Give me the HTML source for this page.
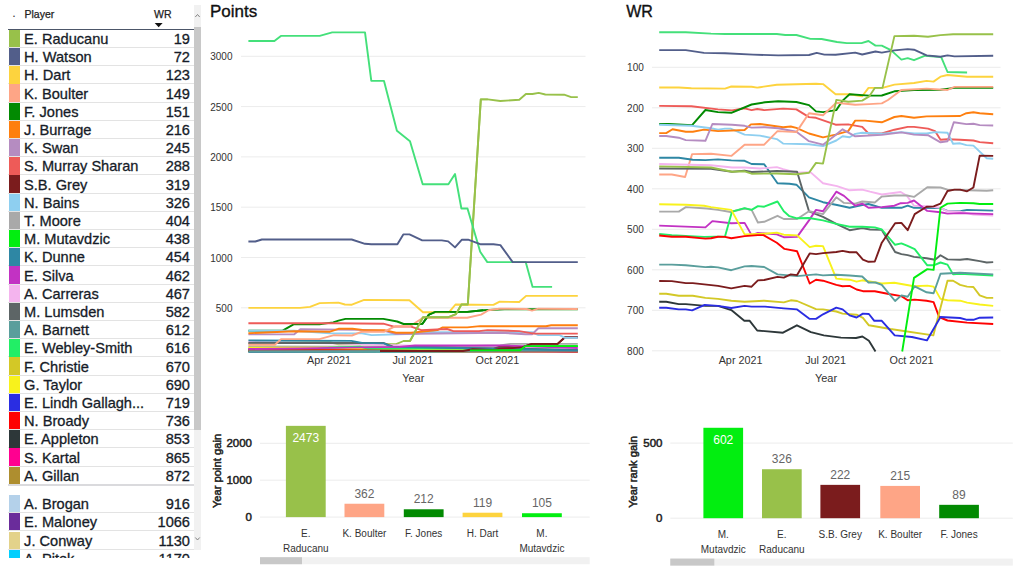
<!DOCTYPE html><html><head><meta charset="utf-8"><style>
*{margin:0;padding:0;box-sizing:border-box}
html,body{width:1024px;height:572px;overflow:hidden;background:#fff;font-family:"Liberation Sans",sans-serif;position:relative}
.a{position:absolute;white-space:nowrap}
.tb{position:absolute;left:0;top:0;width:202px;height:557.6px;overflow:hidden}
.row{position:absolute;left:8.4px;width:185.6px;height:18.2px;border-bottom:1px solid #e3e3e3}
.sw{position:absolute;left:0.6px;top:0;width:11.4px;height:17.3px}
.nm{position:absolute;left:15.7px;top:1.2px;font-size:14.6px;color:#161c28;line-height:16px;-webkit-text-stroke:0.3px #161c28}
.vl{position:absolute;right:4px;top:1.2px;font-size:14.6px;color:#161c28;line-height:16px;text-align:right;-webkit-text-stroke:0.3px #161c28}
svg{position:absolute;left:0;top:0}
svg text{font-family:"Liberation Sans",sans-serif}
</style></head><body>

<div class="tb">
<div class="a" style="left:12.2px;top:5.6px;font-size:12.5px;color:#333">.</div>
<div class="a" style="left:24.5px;top:7.7px;font-size:10.5px;color:#222;-webkit-text-stroke:0.25px #222">Player</div>
<div class="a" style="left:154px;top:7.7px;font-size:10.5px;color:#222;-webkit-text-stroke:0.25px #222">WR</div>
<svg width="200" height="40" style="left:0;top:0"><path d="M154.7 23 L162.6 23 L158.65 27.2 Z" fill="#111"/></svg>
<div class="row" style="top:29.85px"><div class="sw" style="background:#98c14a"></div><div class="nm">E. Raducanu</div><div class="vl">19</div></div>
<div class="row" style="top:48.05px"><div class="sw" style="background:#525e8a"></div><div class="nm">H. Watson</div><div class="vl">72</div></div>
<div class="row" style="top:66.25px"><div class="sw" style="background:#fdd33e"></div><div class="nm">H. Dart</div><div class="vl">123</div></div>
<div class="row" style="top:84.45px"><div class="sw" style="background:#fea586"></div><div class="nm">K. Boulter</div><div class="vl">149</div></div>
<div class="row" style="top:102.65px"><div class="sw" style="background:#028a02"></div><div class="nm">F. Jones</div><div class="vl">151</div></div>
<div class="row" style="top:120.85px"><div class="sw" style="background:#fe7f0f"></div><div class="nm">J. Burrage</div><div class="vl">216</div></div>
<div class="row" style="top:139.05px"><div class="sw" style="background:#b58cc1"></div><div class="nm">K. Swan</div><div class="vl">245</div></div>
<div class="row" style="top:157.25px"><div class="sw" style="background:#ee5b58"></div><div class="nm">S. Murray Sharan</div><div class="vl">288</div></div>
<div class="row" style="top:175.45px"><div class="sw" style="background:#7b1c1d"></div><div class="nm">S.B. Grey</div><div class="vl">319</div></div>
<div class="row" style="top:193.65px"><div class="sw" style="background:#8ecff0"></div><div class="nm">N. Bains</div><div class="vl">326</div></div>
<div class="row" style="top:211.85px"><div class="sw" style="background:#a9a9a9"></div><div class="nm">T. Moore</div><div class="vl">404</div></div>
<div class="row" style="top:230.05px"><div class="sw" style="background:#02ee10"></div><div class="nm">M. Mutavdzic</div><div class="vl">438</div></div>
<div class="row" style="top:248.25px"><div class="sw" style="background:#2e87a4"></div><div class="nm">K. Dunne</div><div class="vl">454</div></div>
<div class="row" style="top:266.45px"><div class="sw" style="background:#c232c3"></div><div class="nm">E. Silva</div><div class="vl">462</div></div>
<div class="row" style="top:284.65px"><div class="sw" style="background:#f4b4ee"></div><div class="nm">A. Carreras</div><div class="vl">467</div></div>
<div class="row" style="top:302.85px"><div class="sw" style="background:#5d6566"></div><div class="nm">M. Lumsden</div><div class="vl">582</div></div>
<div class="row" style="top:321.05px"><div class="sw" style="background:#5a9e9c"></div><div class="nm">A. Barnett</div><div class="vl">612</div></div>
<div class="row" style="top:339.25px"><div class="sw" style="background:#22ee66"></div><div class="nm">E. Webley-Smith</div><div class="vl">616</div></div>
<div class="row" style="top:357.45px"><div class="sw" style="background:#d3c826"></div><div class="nm">F. Christie</div><div class="vl">670</div></div>
<div class="row" style="top:375.65px"><div class="sw" style="background:#f8f21c"></div><div class="nm">G. Taylor</div><div class="vl">690</div></div>
<div class="row" style="top:393.85px"><div class="sw" style="background:#2a2de2"></div><div class="nm">E. Lindh Gallagh...</div><div class="vl">719</div></div>
<div class="row" style="top:412.05px"><div class="sw" style="background:#fe0202"></div><div class="nm">N. Broady</div><div class="vl">736</div></div>
<div class="row" style="top:430.25px"><div class="sw" style="background:#2d3739"></div><div class="nm">E. Appleton</div><div class="vl">853</div></div>
<div class="row" style="top:448.45px"><div class="sw" style="background:#ff0090"></div><div class="nm">S. Kartal</div><div class="vl">865</div></div>
<div class="row" style="top:466.65px"><div class="sw" style="background:#ae8e2f"></div><div class="nm">A. Gillan</div><div class="vl">872</div></div>
<div class="row" style="top:494.90px"><div class="sw" style="background:#b4d1ea"></div><div class="nm">A. Brogan</div><div class="vl">916</div></div>
<div class="row" style="top:513.20px"><div class="sw" style="background:#6a2c9b"></div><div class="nm">E. Maloney</div><div class="vl">1066</div></div>
<div class="row" style="top:531.50px"><div class="sw" style="background:#e3d28a"></div><div class="nm">J. Conway</div><div class="vl">1130</div></div>
<div class="row" style="top:549.80px"><div class="sw" style="background:#02cffe"></div><div class="nm">A. Pitek</div><div class="vl">1170</div></div>
<div class="a" style="left:8.4px;top:29.2px;width:185.6px;height:1.3px;background:#4c5669"></div>
<div class="a" style="left:8.4px;top:484.4px;width:185.6px;height:1.2px;background:#dadadd"></div>
<div class="a" style="left:194px;top:5px;width:7px;height:545px;background:#f1f1f1"></div>
<div class="a" style="left:194px;top:27px;width:7px;height:403px;background:#c8c8c8"></div>
<svg width="202" height="560" style="left:0;top:0"><path d="M195.3 17 L197.5 14.5 L199.7 17" stroke="#777" stroke-width="0.9" fill="none"/><path d="M195.3 537.5 L197.5 540 L199.7 537.5" stroke="#777" stroke-width="0.9" fill="none"/></svg>
</div>
<div class="a" style="left:210px;top:2.4px;font-size:17px;color:#111;-webkit-text-stroke:0.35px #111">Points</div>
<div class="a" style="left:626.2px;top:3.4px;font-size:16px;color:#111;-webkit-text-stroke:0.35px #111">WR</div>
<svg width="1024" height="572" style="left:0;top:0">
<line x1="241" x2="585.5" y1="307.80" y2="307.80" stroke="#ececec" stroke-width="1"/>
<text x="232.5" y="311.80" font-size="10" fill="#333" text-anchor="end">500</text>
<line x1="241" x2="585.5" y1="257.50" y2="257.50" stroke="#ececec" stroke-width="1"/>
<text x="232.5" y="261.50" font-size="10" fill="#333" text-anchor="end">1000</text>
<line x1="241" x2="585.5" y1="207.20" y2="207.20" stroke="#ececec" stroke-width="1"/>
<text x="232.5" y="211.20" font-size="10" fill="#333" text-anchor="end">1500</text>
<line x1="241" x2="585.5" y1="156.90" y2="156.90" stroke="#ececec" stroke-width="1"/>
<text x="232.5" y="160.90" font-size="10" fill="#333" text-anchor="end">2000</text>
<line x1="241" x2="585.5" y1="106.60" y2="106.60" stroke="#ececec" stroke-width="1"/>
<text x="232.5" y="110.60" font-size="10" fill="#333" text-anchor="end">2500</text>
<line x1="241" x2="585.5" y1="56.30" y2="56.30" stroke="#ececec" stroke-width="1"/>
<text x="232.5" y="60.30" font-size="10" fill="#333" text-anchor="end">3000</text>
<text x="329" y="364.3" font-size="10.8" fill="#333" text-anchor="middle">Apr 2021</text>
<text x="412.8" y="364.3" font-size="10.8" fill="#333" text-anchor="middle">Jul 2021</text>
<text x="497.4" y="364.3" font-size="10.8" fill="#333" text-anchor="middle">Oct 2021</text>
<text x="413.3" y="381.8" font-size="11" fill="#333" text-anchor="middle">Year</text>
<line x1="652" x2="1000.6" y1="67.30" y2="67.30" stroke="#ececec" stroke-width="1"/>
<text x="643.8" y="71.30" font-size="10" fill="#333" text-anchor="end">100</text>
<line x1="652" x2="1000.6" y1="107.80" y2="107.80" stroke="#ececec" stroke-width="1"/>
<text x="643.8" y="111.80" font-size="10" fill="#333" text-anchor="end">200</text>
<line x1="652" x2="1000.6" y1="148.30" y2="148.30" stroke="#ececec" stroke-width="1"/>
<text x="643.8" y="152.30" font-size="10" fill="#333" text-anchor="end">300</text>
<line x1="652" x2="1000.6" y1="188.80" y2="188.80" stroke="#ececec" stroke-width="1"/>
<text x="643.8" y="192.80" font-size="10" fill="#333" text-anchor="end">400</text>
<line x1="652" x2="1000.6" y1="229.30" y2="229.30" stroke="#ececec" stroke-width="1"/>
<text x="643.8" y="233.30" font-size="10" fill="#333" text-anchor="end">500</text>
<line x1="652" x2="1000.6" y1="269.80" y2="269.80" stroke="#ececec" stroke-width="1"/>
<text x="643.8" y="273.80" font-size="10" fill="#333" text-anchor="end">600</text>
<line x1="652" x2="1000.6" y1="310.30" y2="310.30" stroke="#ececec" stroke-width="1"/>
<text x="643.8" y="314.30" font-size="10" fill="#333" text-anchor="end">700</text>
<line x1="652" x2="1000.6" y1="350.80" y2="350.80" stroke="#ececec" stroke-width="1"/>
<text x="643.8" y="354.80" font-size="10" fill="#333" text-anchor="end">800</text>
<text x="740.6" y="364.3" font-size="10.8" fill="#333" text-anchor="middle">Apr 2021</text>
<text x="825.6" y="364.3" font-size="10.8" fill="#333" text-anchor="middle">Jul 2021</text>
<text x="911.5" y="364.3" font-size="10.8" fill="#333" text-anchor="middle">Oct 2021</text>
<text x="826" y="381.8" font-size="11" fill="#333" text-anchor="middle">Year</text>
<polyline points="248.4,351.7 577.8,351.7" fill="none" stroke="#02cffe" stroke-width="1.9" stroke-linejoin="round"/>
<polyline points="248.4,351.4 577.8,351.4" fill="none" stroke="#2d3739" stroke-width="1.9" stroke-linejoin="round"/>
<polyline points="248.4,351.0 577.8,351.6" fill="none" stroke="#ae8e2f" stroke-width="1.9" stroke-linejoin="round"/>
<polyline points="248.4,350.6 577.8,351.3" fill="none" stroke="#ff0090" stroke-width="1.9" stroke-linejoin="round"/>
<polyline points="248.4,350.4 577.8,351.7" fill="none" stroke="#e3d28a" stroke-width="1.9" stroke-linejoin="round"/>
<polyline points="248.4,350.1 577.8,351.5" fill="none" stroke="#b4d1ea" stroke-width="1.9" stroke-linejoin="round"/>
<polyline points="248.4,348.8 380.0,348.8 577.8,351.4" fill="none" stroke="#6a2c9b" stroke-width="1.9" stroke-linejoin="round"/>
<polyline points="248.4,349.4 577.8,351.2" fill="none" stroke="#2a2de2" stroke-width="1.9" stroke-linejoin="round"/>
<polyline points="248.4,348.6 577.8,351.0" fill="none" stroke="#d3c826" stroke-width="1.9" stroke-linejoin="round"/>
<polyline points="248.4,343.4 330.0,342.3 338.5,344.2 396.1,344.2 403.6,341.0 410.0,341.0 423.0,317.3 448.0,317.3 456.0,314.1 461.4,304.5 467.8,304.5 480.8,99.4 487.8,99.4 500.3,101.0 519.3,99.7 525.9,94.0 532.5,94.0 538.7,92.9 545.3,94.5 564.1,94.7 571.2,97.1 577.8,97.1" fill="none" stroke="#98c14a" stroke-width="1.9" stroke-linejoin="round"/>
<polyline points="248.4,330.8 282.2,330.8 294.0,324.2 319.4,324.2 333.2,322.4 338.5,320.7 345.5,318.9 383.3,318.9 397.2,321.5 403.6,324.0 422.5,323.7 428.9,314.6 435.3,311.9 467.2,311.9 483.2,310.3 504.6,309.3 577.8,309.3" fill="none" stroke="#028a02" stroke-width="1.9" stroke-linejoin="round"/>
<polyline points="248.4,342.0 330.0,343.4 420.0,345.9 500.0,347.6 577.8,347.6" fill="none" stroke="#f4b4ee" stroke-width="1.9" stroke-linejoin="round"/>
<polyline points="248.4,346.4 420.0,346.9 500.0,345.5 510.7,343.9 577.8,343.9" fill="none" stroke="#a9a9a9" stroke-width="1.9" stroke-linejoin="round"/>
<polyline points="248.4,351.0 400.0,350.8 500.0,350.3 520.3,350.3 525.1,346.1 577.8,346.1" fill="none" stroke="#02ee10" stroke-width="1.9" stroke-linejoin="round"/>
<polyline points="248.4,351.4 389.7,351.0 463.0,350.8 472.6,349.2 493.9,348.7 499.2,346.9 522.4,347.1 532.0,343.9 557.6,343.9 565.0,337.2 577.8,337.2" fill="none" stroke="#7b1c1d" stroke-width="1.9" stroke-linejoin="round"/>
<polyline points="248.4,347.6 330.0,347.8 420.0,349.0 577.8,351.4" fill="none" stroke="#f8f21c" stroke-width="1.9" stroke-linejoin="round"/>
<polyline points="248.4,350.0 310.0,349.6 330.0,347.8 359.9,346.6 367.3,348.7 457.7,348.2 479.0,349.2 505.0,350.6 577.8,351.0" fill="none" stroke="#22ee66" stroke-width="1.9" stroke-linejoin="round"/>
<polyline points="248.4,350.2 330.0,350.1 420.0,351.0 577.8,351.6" fill="none" stroke="#fe0202" stroke-width="1.9" stroke-linejoin="round"/>
<polyline points="248.4,351.2 577.8,350.8" fill="none" stroke="#5a9e9c" stroke-width="1.9" stroke-linejoin="round"/>
<polyline points="248.4,343.0 383.3,342.9 392.9,346.6 420.0,346.9 577.8,349.9" fill="none" stroke="#5d6566" stroke-width="1.9" stroke-linejoin="round"/>
<polyline points="248.4,340.4 351.3,340.9 362.0,342.9 384.0,343.4 390.8,346.7 577.8,350.4" fill="none" stroke="#2e87a4" stroke-width="1.9" stroke-linejoin="round"/>
<polyline points="248.4,349.0 300.0,348.4 399.3,346.9 415.0,345.5 505.0,345.5 577.8,348.0" fill="none" stroke="#c232c3" stroke-width="1.9" stroke-linejoin="round"/>
<polyline points="380.0,351.0 463.0,351.0 472.6,349.2 493.0,350.0 499.2,348.9 510.0,348.4 522.4,347.1 532.0,343.9 557.6,343.9 565.0,337.2 577.8,337.2" fill="none" stroke="#7b1c1d" stroke-width="1.9" stroke-linejoin="round"/>
<polyline points="470.0,350.4 500.0,350.3 520.3,350.3 525.1,346.1 577.8,346.1" fill="none" stroke="#02ee10" stroke-width="1.9" stroke-linejoin="round"/>
<polyline points="248.4,330.8 294.0,330.8 330.0,333.3 362.0,333.4 371.6,335.1 415.0,333.8 430.0,331.7 436.3,332.2 532.0,332.2 538.4,335.1 559.7,335.1 565.0,337.8 577.8,337.8" fill="none" stroke="#8ecff0" stroke-width="1.9" stroke-linejoin="round"/>
<polyline points="248.4,334.4 294.0,334.4 300.3,329.3 364.0,329.9 384.4,330.9 396.0,334.0 500.0,332.7 525.6,334.3 532.0,334.3 538.4,328.2 577.8,328.2" fill="none" stroke="#b58cc1" stroke-width="1.9" stroke-linejoin="round"/>
<polyline points="248.4,333.2 294.0,331.3 330.0,331.7 338.5,328.8 352.4,328.8 364.1,330.1 384.4,330.1 396.1,332.7 411.0,332.7 437.4,330.1 442.7,327.4 467.2,327.4 480.0,326.1 545.9,326.3 551.2,325.3 577.8,325.3" fill="none" stroke="#fe7f0f" stroke-width="1.9" stroke-linejoin="round"/>
<polyline points="248.4,323.2 334.3,323.3 383.3,323.7 394.0,326.6 411.0,326.6 421.4,330.1 447.0,329.0 453.4,331.1 479.0,331.1 487.5,330.1 519.2,331.1 534.1,333.6 577.8,333.6" fill="none" stroke="#ee5b58" stroke-width="1.9" stroke-linejoin="round"/>
<polyline points="248.4,344.7 274.9,344.7 281.0,339.1 319.4,339.1 334.0,335.2 351.9,335.5 362.0,331.7 384.4,331.7 395.0,326.3 410.0,326.3 423.0,317.8 467.2,317.8 481.1,314.6 488.6,310.3 499.2,308.7 526.7,309.0 532.0,310.6 538.4,308.7 577.8,309.0" fill="none" stroke="#fea586" stroke-width="1.9" stroke-linejoin="round"/>
<polyline points="248.4,307.9 300.0,307.9 310.0,306.9 319.7,303.1 338.4,302.6 344.9,304.5 351.9,304.7 364.1,299.9 409.4,300.3 423.0,312.2 449.1,312.2 455.5,304.5 493.4,304.9 499.2,301.8 519.2,302.0 526.1,295.9 577.8,295.9" fill="none" stroke="#fdd33e" stroke-width="1.9" stroke-linejoin="round"/>
<polyline points="403.6,324.0 422.5,323.7 428.9,314.6 435.3,311.9 467.2,311.9 483.2,310.3" fill="none" stroke="#028a02" stroke-width="1.9" stroke-linejoin="round"/>
<polyline points="403.6,341.0 410.0,341.0 423.0,317.3 448.0,317.3 456.0,314.1 461.4,304.5 467.8,304.5 480.8,99.4 487.8,99.4" fill="none" stroke="#98c14a" stroke-width="1.9" stroke-linejoin="round"/>
<polyline points="248.4,41.0 274.4,41.0 280.9,35.9 319.7,35.9 332.2,32.4 365.0,32.4 371.3,80.9 384.0,80.9 396.9,130.7 410.0,141.2 422.7,184.3 448.4,184.3 455.0,174.0 461.4,208.5 467.5,208.5 480.2,251.8 487.3,262.1 525.7,262.1 532.6,286.9 552.1,286.9" fill="none" stroke="#44e07a" stroke-width="1.9" stroke-linejoin="round"/>
<polyline points="248.4,241.5 255.3,241.5 261.9,239.5 351.7,239.5 365.0,243.8 371.3,244.3 397.4,244.3 403.3,234.4 409.5,234.4 422.2,240.4 441.8,240.4 448.2,241.4 455.0,247.4 461.9,239.7 468.1,239.7 480.8,244.3 493.5,244.3 500.4,245.1 512.7,262.1 577.8,262.1" fill="none" stroke="#525e8a" stroke-width="1.9" stroke-linejoin="round"/>
<polyline points="659.2,32.3 685.8,32.3 711.0,33.6 725.0,34.0 776.8,34.0 785.2,35.0 796.4,35.0 810.4,38.9 821.6,39.0 837.0,42.0 846.8,43.1 861.5,43.1 868.5,41.0 875.5,45.6 881.8,45.6 890.9,50.1 901.4,59.6 907.7,58.1 914.0,60.2 925.2,55.7 941.2,57.1 947.5,72.0 967.1,72.5" fill="none" stroke="#44e07a" stroke-width="1.9" stroke-linejoin="round"/>
<polyline points="659.2,50.1 685.8,50.1 704.0,52.9 725.0,53.2 753.0,54.6 778.2,55.4 809.0,55.0 816.7,52.9 824.4,54.6 835.6,54.7 855.2,52.6 862.2,54.5 875.5,51.5 881.8,52.6 894.4,50.4 907.7,49.1 914.0,49.7 926.6,55.4 940.5,56.7 947.5,55.4 954.5,56.4 993.2,55.7" fill="none" stroke="#525e8a" stroke-width="1.9" stroke-linejoin="round"/>
<polyline points="659.2,87.5 678.8,87.5 691.4,88.3 725.0,88.6 731.3,86.5 751.6,86.8 757.2,87.6 760.0,87.2 776.8,84.7 816.0,83.7 823.0,84.1 835.6,94.2 849.6,94.2 862.2,96.3 868.5,87.9 882.5,87.9 894.4,84.6 914.0,83.0 926.6,80.9 933.5,81.6 940.5,76.7 947.5,75.0 967.1,76.7 993.2,76.7" fill="none" stroke="#fdd33e" stroke-width="1.9" stroke-linejoin="round"/>
<polyline points="659.2,105.9 691.4,106.2 718.0,109.4 732.0,110.4 744.6,108.3 751.6,110.1 757.2,109.0 764.2,110.1 783.1,108.6 796.4,109.4 809.0,117.1 816.0,117.8 835.6,124.7 848.2,124.4 862.2,126.9 868.5,133.5 881.8,133.5 894.4,129.7 907.7,126.9 914.0,126.9 928.0,128.6 935.0,131.1 940.5,139.8 947.5,139.3 960.1,139.8 973.4,140.5 979.7,142.1 993.2,143.3" fill="none" stroke="#ee5b58" stroke-width="1.9" stroke-linejoin="round"/>
<polyline points="659.2,124.0 669.0,124.0 692.1,125.1 705.4,110.0 718.0,112.1 731.3,112.8 751.6,104.5 765.0,102.3 778.2,101.3 796.4,102.0 809.0,105.1 816.0,111.4 823.0,112.1 836.3,110.1 842.6,100.6 849.6,94.2 869.2,95.6 881.8,95.5 894.4,91.3 914.0,90.0 940.5,89.7 954.5,87.9 993.2,87.9" fill="none" stroke="#028a02" stroke-width="1.9" stroke-linejoin="round"/>
<polyline points="659.2,124.7 691.4,125.8 711.0,128.3 718.0,129.6 725.0,128.6 730.6,128.6 744.6,134.6 760.0,135.6 776.8,139.1 783.1,143.6 809.0,144.3 823.0,146.1 836.3,140.5 842.6,136.3 849.6,137.3 855.2,133.9 862.2,132.8 881.8,133.8 901.4,132.1 914.0,133.5 926.6,133.5 935.0,132.1 947.5,132.8 953.1,143.7 960.1,143.3 966.4,145.1 973.4,145.6 986.7,158.2 993.2,158.7" fill="none" stroke="#8ecff0" stroke-width="1.9" stroke-linejoin="round"/>
<polyline points="659.2,133.1 666.2,133.1 672.5,129.3 685.8,131.8 692.8,131.8 704.0,129.6 718.0,131.1 744.6,130.0 750.9,124.4 760.0,124.0 783.1,127.2 790.8,126.5 796.4,127.9 809.0,133.5 823.0,137.4 835.6,134.6 848.2,131.1 855.2,120.6 865.0,120.6 881.8,122.3 894.4,117.0 901.4,116.0 914.0,117.7 926.6,116.4 960.1,116.0 966.4,113.2 973.4,112.2 979.7,113.2 993.2,114.2" fill="none" stroke="#fe7f0f" stroke-width="1.9" stroke-linejoin="round"/>
<polyline points="659.2,136.0 666.2,136.0 678.8,137.7 685.8,140.1 705.4,140.8 712.4,124.0 732.0,124.8 744.6,125.8 751.6,127.6 765.0,127.2 778.2,128.3 796.4,131.7 809.0,141.2 823.0,144.7 835.6,134.9 842.6,129.3 855.2,136.3 881.8,134.9 901.4,132.4 914.0,134.6 928.0,135.2 940.5,142.3 947.5,141.2 953.8,122.3 966.4,124.1 973.4,123.7 979.7,125.1 993.2,125.5" fill="none" stroke="#b58cc1" stroke-width="1.9" stroke-linejoin="round"/>
<polyline points="659.2,174.5 671.8,174.5 685.1,177.0 692.1,154.1 711.0,153.8 731.3,155.9 744.6,144.7 764.2,144.7 777.5,131.1 796.4,132.1 809.0,113.2 823.0,115.3 836.3,102.7 855.2,104.8 869.2,104.1 881.8,103.4 888.0,100.0 901.4,90.0 926.6,88.6 947.5,90.0 954.5,86.9 993.2,86.9" fill="none" stroke="#fea586" stroke-width="1.9" stroke-linejoin="round"/>
<polyline points="659.2,157.7 678.8,157.7 692.8,159.7 705.4,160.1 718.0,159.4 731.3,160.4 744.6,160.8 751.6,164.0 764.2,164.3 777.5,183.3 789.4,183.7 796.4,184.7 809.0,197.3 823.0,202.2 837.0,205.0 849.6,207.8 862.2,205.0 868.5,204.0 881.8,207.8 901.4,207.8 907.7,205.7 914.0,207.8 940.5,208.1 947.5,210.9 960.1,211.3 967.1,209.9 993.2,210.6" fill="none" stroke="#2e87a4" stroke-width="1.9" stroke-linejoin="round"/>
<polyline points="659.2,164.0 711.0,165.3 732.0,167.5 744.6,167.5 760.0,168.5 776.8,167.1 783.1,169.2 796.4,172.7 810.4,172.1 823.0,183.3 837.0,186.1 849.6,190.3 862.2,189.6 870.0,191.7 881.8,194.5 900.7,192.0 907.0,195.9 914.0,205.7 926.6,206.1 940.5,207.8 947.5,211.3 960.1,211.7 973.4,214.5 993.2,215.5" fill="none" stroke="#f4b4ee" stroke-width="1.9" stroke-linejoin="round"/>
<polyline points="659.2,168.5 711.0,168.9 732.0,171.7 744.6,170.6 751.6,172.0 776.8,171.0 797.1,171.7 809.0,211.3 823.0,216.9 836.3,223.9 849.6,230.2 862.2,228.1 870.0,229.5 881.8,229.9 895.1,252.0 901.4,254.1 907.7,255.1 914.0,256.9 926.6,258.3 935.0,259.7 940.5,255.2 947.5,259.4 960.1,259.7 967.1,259.0 979.7,261.1 986.7,262.5 993.2,262.1" fill="none" stroke="#5d6566" stroke-width="1.9" stroke-linejoin="round"/>
<polyline points="659.2,166.4 711.0,167.5 732.0,171.7 744.6,171.3 751.6,173.7 776.8,173.5 796.4,174.2 809.0,172.7 816.0,162.9 823.0,163.6 836.3,99.9 848.2,101.7 862.2,100.6 869.2,96.4 874.8,87.9 882.5,87.9 894.4,36.1 914.0,35.7 928.0,36.8 940.5,35.1 953.1,34.3 993.2,34.3" fill="none" stroke="#98c14a" stroke-width="1.9" stroke-linejoin="round"/>
<polyline points="659.2,211.6 678.8,211.6 685.8,207.1 706.8,208.5 718.0,209.9 730.6,212.0 744.6,208.5 751.6,209.9 757.9,222.5 764.2,221.8 777.5,215.8 783.8,219.0 797.1,219.0 809.0,211.3 823.0,214.1 836.3,197.3 844.0,202.9 855.2,203.6 862.2,201.5 874.8,202.5 881.8,196.6 894.4,195.5 907.0,195.5 914.0,196.9 927.3,187.2 940.5,187.5 947.5,189.6 960.1,190.0 986.7,190.7 993.2,190.3" fill="none" stroke="#a9a9a9" stroke-width="1.9" stroke-linejoin="round"/>
<polyline points="659.2,225.6 705.4,227.4 712.4,221.1 731.3,223.2 744.6,222.9 751.6,235.1 757.9,233.0 776.8,234.4 783.8,237.2 797.1,236.9 809.0,220.4 816.0,209.9 823.0,211.3 836.3,191.7 844.0,195.9 855.2,205.7 862.2,203.6 868.5,207.8 881.8,207.1 894.4,205.7 900.7,203.2 907.7,202.9 914.0,200.5 927.3,210.9 940.5,212.2 947.5,213.6 960.1,213.1 993.2,214.1" fill="none" stroke="#c232c3" stroke-width="1.9" stroke-linejoin="round"/>
<polyline points="659.2,234.0 671.8,235.1 704.0,236.9 725.0,236.5 732.0,211.6 744.6,208.2 751.6,209.9 757.9,206.1 764.2,206.7 777.5,201.5 783.8,211.3 789.4,216.2 797.1,218.3 809.0,218.0 823.0,220.4 836.3,223.9 849.6,226.7 862.2,226.7 874.8,227.4 881.8,229.5 895.1,244.8 901.4,243.4 907.0,245.7 914.7,249.2 927.3,265.3 933.6,265.3 940.5,262.5 947.5,264.6 953.1,274.4 960.1,273.7 993.2,275.5" fill="none" stroke="#22ee66" stroke-width="1.9" stroke-linejoin="round"/>
<polyline points="659.2,204.3 685.8,204.7 704.0,205.7 711.0,207.1 731.3,209.9 744.6,234.4 765.0,233.7 776.8,232.6 783.8,234.7 797.1,235.4 809.7,247.1 816.0,245.7 823.0,246.1 836.3,278.6 842.6,279.3 849.6,279.7 856.6,281.7 862.2,280.3 881.8,283.5 894.4,282.8 914.0,286.3 927.3,285.6 933.6,286.6 940.5,298.9 947.5,300.3 960.1,300.7 967.1,302.6 979.7,304.5 993.2,305.9" fill="none" stroke="#f8f21c" stroke-width="1.9" stroke-linejoin="round"/>
<polyline points="659.2,235.5 671.8,236.8 685.8,236.8 705.4,238.6 711.0,238.3 718.0,236.8 725.0,236.9 731.3,238.3 744.6,236.1 757.9,235.1 763.5,235.1 776.8,242.8 784.5,248.9 797.1,251.3 809.7,283.5 816.0,279.7 823.0,280.7 836.3,284.9 842.6,286.3 849.6,285.9 856.6,289.5 862.9,291.2 874.8,291.2 888.8,294.0 901.4,296.1 907.7,300.3 914.7,299.6 926.6,300.7 933.6,302.1 939.1,317.0 947.5,320.5 967.1,322.6 993.2,324.0" fill="none" stroke="#fe0202" stroke-width="1.9" stroke-linejoin="round"/>
<polyline points="659.2,264.6 671.8,264.6 685.8,265.3 705.4,267.1 711.0,266.7 718.0,267.4 731.3,270.2 744.6,266.4 751.6,266.0 764.2,267.0 777.5,274.4 797.1,276.1 816.0,274.4 823.0,275.4 836.3,274.8 849.6,275.5 862.2,276.5 868.5,282.5 875.5,282.5 881.8,284.9 895.1,301.0 901.4,295.4 907.7,296.8 914.7,286.3 926.6,292.3 933.6,293.3 940.5,273.7 960.1,272.7 993.2,274.4" fill="none" stroke="#5a9e9c" stroke-width="1.9" stroke-linejoin="round"/>
<polyline points="659.2,281.0 671.8,281.1 685.8,283.1 692.8,283.1 718.0,285.9 731.3,288.4 744.6,285.9 751.6,286.7 757.9,280.4 764.2,280.0 777.5,276.9 783.8,277.6 790.8,274.4 797.1,275.1 809.7,253.4 816.0,254.1 823.0,253.1 836.3,252.0 842.6,250.9 849.6,252.3 856.6,252.3 862.9,259.7 868.5,261.8 874.8,261.5 881.8,242.7 895.1,223.2 901.4,222.9 907.7,230.2 914.7,214.1 926.6,206.7 933.6,206.4 940.5,203.6 947.5,191.0 954.5,189.6 960.1,189.6 967.1,191.3 973.4,187.5 979.7,155.6 993.2,155.9" fill="none" stroke="#7b1c1d" stroke-width="1.9" stroke-linejoin="round"/>
<polyline points="659.2,293.7 666.2,293.7 678.8,295.7 692.8,295.7 705.4,297.9 718.0,298.9 731.3,300.7 744.6,301.7 764.2,300.7 783.8,302.4 790.8,300.3 797.1,301.0 816.0,309.1 823.0,309.4 836.3,311.5 842.6,313.6 856.6,314.7 862.9,317.8 868.9,325.3 890.4,329.0 933.3,335.4 947.5,280.7 953.1,280.7 960.1,284.9 967.1,286.6 973.4,287.0 979.7,295.4 986.7,297.9 993.2,297.9" fill="none" stroke="#d3c826" stroke-width="1.9" stroke-linejoin="round"/>
<polyline points="659.2,301.7 666.2,301.7 678.8,304.1 685.8,304.1 705.4,305.9 718.0,305.9 731.3,310.1 744.3,320.8 749.7,320.8 757.2,330.5 783.0,332.7 796.9,325.3 810.9,332.2 823.8,335.4 841.0,337.6 856.0,338.0 862.4,336.5 868.9,340.8 875.5,351.5" fill="none" stroke="#2d3739" stroke-width="1.9" stroke-linejoin="round"/>
<polyline points="659.2,307.7 666.2,307.7 678.8,309.4 685.8,309.4 692.1,310.4 704.7,304.9 718.0,305.9 731.3,308.0 744.6,305.9 751.6,306.6 765.0,306.6 783.8,308.4 797.1,309.4 809.7,318.9 816.0,318.9 823.0,314.3 836.3,307.7 842.6,309.4 849.6,315.4 856.6,317.5 862.9,313.6 868.9,314.0 874.3,320.8 881.8,320.8 894.7,335.4 911.9,337.0 926.9,340.4 940.5,317.0 960.1,318.0 967.1,319.8 973.4,319.8 979.7,317.7 993.2,317.5" fill="none" stroke="#2a2de2" stroke-width="1.9" stroke-linejoin="round"/>
<polyline points="902.2,351.5 914.0,277.9 927.3,269.1 933.6,269.9 940.5,207.8 947.5,203.6 960.1,202.9 973.4,203.2 979.7,204.0 993.2,204.0" fill="none" stroke="#02ee10" stroke-width="1.9" stroke-linejoin="round"/>
<line x1="260" x2="589.7" y1="517.10" y2="517.10" stroke="#ececec" stroke-width="1"/>
<text x="252" y="521.10" font-size="11.5" fill="#222" text-anchor="end" stroke="#222" stroke-width="0.5">0</text>
<line x1="260" x2="589.7" y1="480.20" y2="480.20" stroke="#ececec" stroke-width="1"/>
<text x="252" y="484.20" font-size="11.5" fill="#222" text-anchor="end" stroke="#222" stroke-width="0.5">1000</text>
<line x1="260" x2="589.7" y1="443.30" y2="443.30" stroke="#ececec" stroke-width="1"/>
<text x="252" y="447.30" font-size="11.5" fill="#222" text-anchor="end" stroke="#222" stroke-width="0.5">2000</text>
<text transform="translate(221,471) rotate(-90)" font-size="11.2" fill="#222" text-anchor="middle" stroke="#222" stroke-width="0.5">Year point gain</text>
<rect x="285.9" y="425.85" width="39.8" height="91.25" fill="#98c14a"/>
<text x="305.79999999999995" y="441.85" font-size="12" fill="#fff" text-anchor="middle">2473</text>
<text x="305.79999999999995" y="537.00" font-size="10" fill="#333" text-anchor="middle">E.</text>
<text x="305.79999999999995" y="551.50" font-size="10" fill="#333" text-anchor="middle">Raducanu</text>
<rect x="344.5" y="503.74" width="39.8" height="13.36" fill="#fea586"/>
<text x="364.4" y="497.74" font-size="12" fill="#666" text-anchor="middle">362</text>
<text x="364.4" y="537.00" font-size="10" fill="#333" text-anchor="middle">K. Boulter</text>
<rect x="403.8" y="509.28" width="39.8" height="7.82" fill="#028a02"/>
<text x="423.7" y="503.28" font-size="12" fill="#666" text-anchor="middle">212</text>
<text x="423.7" y="537.00" font-size="10" fill="#333" text-anchor="middle">F. Jones</text>
<rect x="462.6" y="512.71" width="39.8" height="4.39" fill="#fdd33e"/>
<text x="482.5" y="506.71" font-size="12" fill="#666" text-anchor="middle">119</text>
<text x="482.5" y="537.00" font-size="10" fill="#333" text-anchor="middle">H. Dart</text>
<rect x="522" y="513.23" width="39.8" height="3.87" fill="#02ee10"/>
<text x="541.9" y="507.23" font-size="12" fill="#666" text-anchor="middle">105</text>
<text x="541.9" y="537.00" font-size="10" fill="#333" text-anchor="middle">M.</text>
<text x="541.9" y="551.50" font-size="10" fill="#333" text-anchor="middle">Mutavdzic</text>
<rect x="260" y="557.2" width="329.7" height="7" fill="#f1f1f1"/><rect x="260" y="557.2" width="42" height="7" fill="#c8c8c8"/>
<line x1="670.3" x2="1012.8" y1="518.20" y2="518.20" stroke="#ececec" stroke-width="1"/>
<text x="662.5" y="522.20" font-size="11.5" fill="#222" text-anchor="end" stroke="#222" stroke-width="0.5">0</text>
<line x1="670.3" x2="1012.8" y1="443.10" y2="443.10" stroke="#ececec" stroke-width="1"/>
<text x="662.5" y="447.10" font-size="11.5" fill="#222" text-anchor="end" stroke="#222" stroke-width="0.5">500</text>
<text transform="translate(636.5,472) rotate(-90)" font-size="11.2" fill="#222" text-anchor="middle" stroke="#222" stroke-width="0.5">Year rank gain</text>
<rect x="703.4" y="427.78" width="39.7" height="90.42" fill="#02ee10"/>
<text x="723.25" y="443.78" font-size="12" fill="#fff" text-anchor="middle">602</text>
<text x="723.25" y="538.00" font-size="10" fill="#333" text-anchor="middle">M.</text>
<text x="723.25" y="553.00" font-size="10" fill="#333" text-anchor="middle">Mutavdzic</text>
<rect x="762" y="469.23" width="39.7" height="48.97" fill="#98c14a"/>
<text x="781.85" y="463.23" font-size="12" fill="#666" text-anchor="middle">326</text>
<text x="781.85" y="538.00" font-size="10" fill="#333" text-anchor="middle">E.</text>
<text x="781.85" y="553.00" font-size="10" fill="#333" text-anchor="middle">Raducanu</text>
<rect x="820.4" y="484.86" width="39.7" height="33.34" fill="#7b1c1d"/>
<text x="840.25" y="478.86" font-size="12" fill="#666" text-anchor="middle">222</text>
<text x="840.25" y="538.00" font-size="10" fill="#333" text-anchor="middle">S.B. Grey</text>
<rect x="880.3" y="485.91" width="39.7" height="32.29" fill="#fea586"/>
<text x="900.15" y="479.91" font-size="12" fill="#666" text-anchor="middle">215</text>
<text x="900.15" y="538.00" font-size="10" fill="#333" text-anchor="middle">K. Boulter</text>
<rect x="939.2" y="504.83" width="39.7" height="13.37" fill="#028a02"/>
<text x="959.0500000000001" y="498.83" font-size="12" fill="#666" text-anchor="middle">89</text>
<text x="959.0500000000001" y="538.00" font-size="10" fill="#333" text-anchor="middle">F. Jones</text>
<rect x="670.3" y="558.6" width="342.5" height="7" fill="#f1f1f1"/><rect x="670.3" y="558.6" width="44" height="7" fill="#c8c8c8"/>
</svg>
</body></html>
